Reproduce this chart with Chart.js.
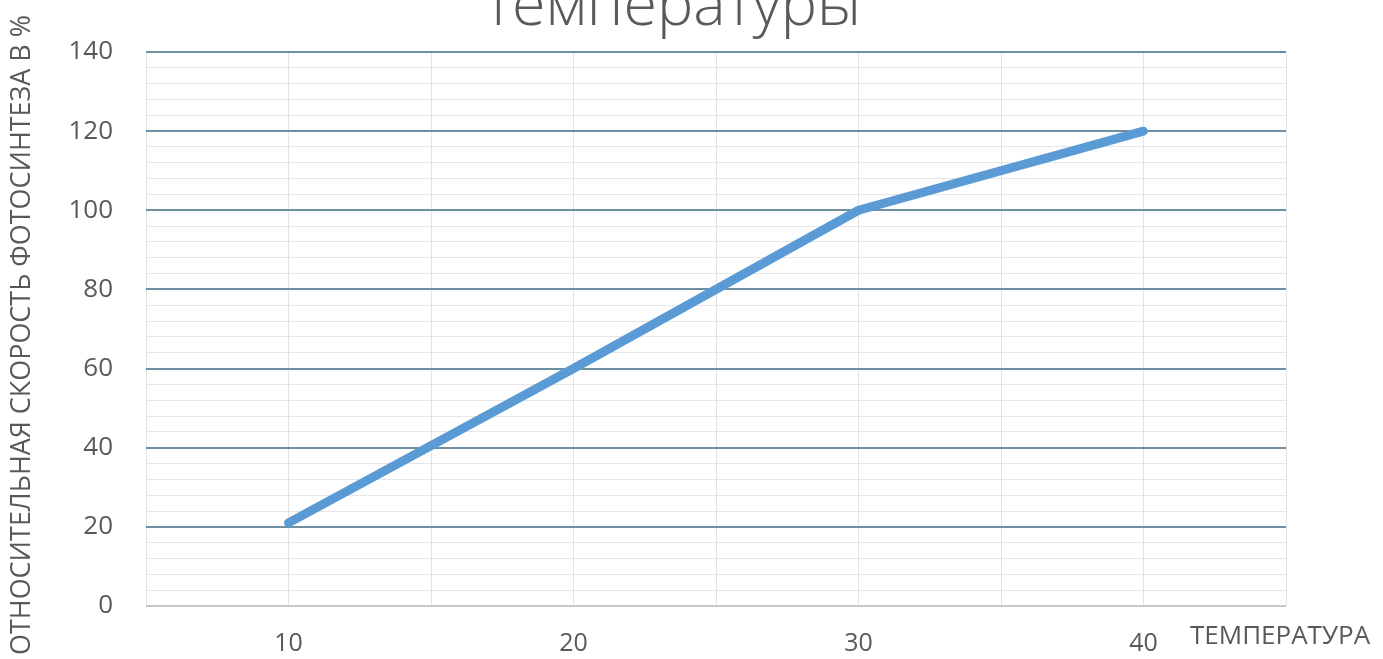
<!DOCTYPE html>
<html>
<head>
<meta charset="utf-8">
<script src="https://cdn.jsdelivr.net/npm/chart.js@4/dist/chart.umd.min.js"></script>
<style>
  html, body { margin: 0; padding: 0; background: #fff; }
  #wrap { position: relative; width: 1383px; height: 659px; overflow: hidden; }
</style>
</head>
<body>
<div id="wrap"><canvas id="chart" width="1383" height="659"></canvas></div>
<script>
  const TITLE = 'температуры';
  const X_TITLE = 'ТЕМПЕРАТУРА';
  const Y_TITLE = 'ОТНОСИТЕЛЬНАЯ СКОРОСТЬ ФОТОСИНТЕЗА В %';

  const temps = [10, 20, 30, 40];
  const rates = [21, 60, 100, 120];
  const xLabels = [10, 20, 30, 40];
  const yLabels = [0, 20, 40, 60, 80, 100, 120, 140];

  const TEXT = '#595959';
  const FONT = "'Open Sans', 'Liberation Sans', sans-serif";

  // titles drawn by hand, the top one is cut by the canvas edge like in the source
  const textPlugin = {
    id: 'texts',
    afterDraw(chart) {
      const ctx = chart.ctx;
      ctx.save();
      ctx.fillStyle = TEXT;

      ctx.font = '300 61px ' + FONT;
      ctx.textAlign = 'center';
      ctx.textBaseline = 'alphabetic';
      ctx.fillText(TITLE, 673, 25);

      ctx.font = '26px ' + FONT;
      ctx.textAlign = 'left';
      ctx.textBaseline = 'middle';
      ctx.fillText(X_TITLE, 1190, 637, 188);

      ctx.translate(22, 335);
      ctx.rotate(-Math.PI / 2);
      ctx.font = '27px ' + FONT;
      ctx.textAlign = 'center';
      ctx.fillText(Y_TITLE, 0, 0, 640);
      ctx.restore();
    }
  };

  new Chart(document.getElementById('chart').getContext('2d'), {
    type: 'line',
    data: {
      datasets: [{
        data: temps.map((t, i) => ({ x: t, y: rates[i] })),
        borderColor: '#5b9bd5',
        borderWidth: 9,
        borderCapStyle: 'round',
        borderJoinStyle: 'round',
        pointRadius: 0,
        tension: 0,
        fill: false
      }]
    },
    options: {
      responsive: false,
      animation: false,
      layout: { padding: { top: 52, right: 97, left: 0, bottom: 0 } },
      plugins: {
        legend: { display: false },
        tooltip: { enabled: false }
      },
      scales: {
        x: {
          type: 'linear',
          min: 5,
          max: 45,
          afterFit: s => { s.height = 53; },
          border: { display: false },
          grid: { color: '#e3e3e3', lineWidth: 1, drawTicks: false },
          ticks: {
            stepSize: 5,
            padding: 23,
            color: TEXT,
            font: { family: FONT, size: 25 },
            maxRotation: 0,
            autoSkip: false,
            callback: v => xLabels.includes(v) ? String(v) : ''
          }
        },
        y: {
          min: 0,
          max: 140,
          afterFit: s => { s.width = 146; },
          border: { display: false },
          grid: {
            drawTicks: false,
            color: c => c.tick.value === 0 ? '#c6c6c6' : (yLabels.includes(c.tick.value) ? '#6f8fa3' : '#e6e6e6'),
            lineWidth: c => yLabels.includes(c.tick.value) ? 2 : 1
          },
          ticks: {
            stepSize: 4,
            padding: 33,
            color: TEXT,
            font: { family: FONT, size: 26 },
            autoSkip: false,
            callback: v => yLabels.includes(v) ? String(v) : ''
          }
        }
      }
    },
    plugins: [textPlugin]
  });
</script>
</body>
</html>
